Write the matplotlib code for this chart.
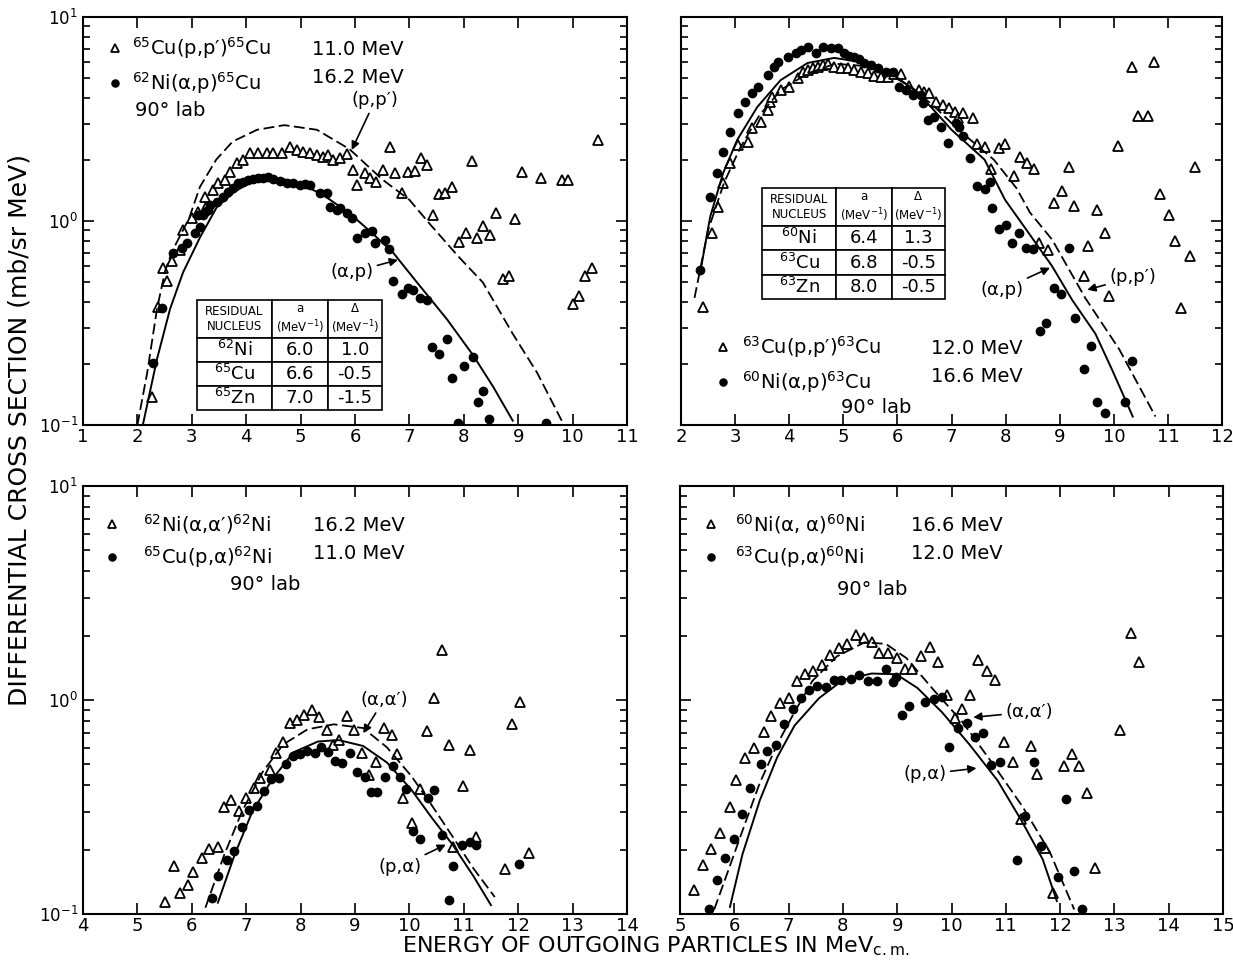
import matplotlib.pyplot as plt
from matplotlib.lines import Line2D
from matplotlib.ticker import NullFormatter, MultipleLocator

plt.rcParams['font.family'] = 'DejaVu Sans'
plt.rcParams['mathtext.default'] = 'regular'

# ---- top left: 65Cu(p,p') / 62Ni(a,p) ----
tl_tri_x = [2.27, 2.38, 2.47, 2.54, 2.64, 2.78, 2.84, 3.00, 3.11, 3.28, 3.24, 3.39, 3.48, 3.61, 3.70, 3.83, 3.94,
            4.07, 4.22, 4.38, 4.49, 4.66, 4.81, 4.93, 5.04, 5.17, 5.30, 5.41, 5.50, 5.60, 5.72, 5.85, 5.96, 6.04,
            6.18, 6.28, 6.39, 6.51, 6.64, 6.74, 6.86, 6.97, 7.10, 7.21, 7.32, 7.43, 7.54, 7.65, 7.78, 7.91, 8.04,
            8.15, 8.24, 8.35, 8.48, 8.59, 8.72, 8.83, 8.94, 9.07, 9.42, 9.81, 9.92, 10.01, 10.12, 10.23, 10.36, 10.47]
tl_tri_y = [0.137, 0.38, 0.59, 0.51, 0.64, 0.72, 0.90, 1.03, 1.11, 1.20, 1.31, 1.42, 1.54, 1.59, 1.74, 1.92, 1.99,
            2.15, 2.15, 2.15, 2.15, 2.15, 2.31, 2.23, 2.19, 2.15, 2.11, 2.06, 2.11, 1.99, 2.04, 2.13, 1.78, 1.50,
            1.72, 1.62, 1.55, 1.78, 2.31, 1.72, 1.37, 1.74, 1.76, 2.04, 1.88, 1.07, 1.36, 1.37, 1.47, 0.79, 0.87,
            1.97, 0.83, 0.94, 0.85, 1.09, 0.52, 0.54, 1.02, 1.74, 1.62, 1.59, 1.59, 0.39, 0.43, 0.54, 0.59, 2.49]
tl_dot_x = [2.29, 2.45, 2.65, 2.82, 2.91, 3.06, 3.15, 3.11, 3.21, 3.24, 3.30, 3.33, 3.46, 3.57, 3.67, 3.76, 3.85,
            3.94, 4.03, 4.13, 4.22, 4.31, 4.40, 4.49, 4.62, 4.75, 4.86, 4.99, 5.08, 5.17, 5.36, 5.49, 5.54, 5.67,
            5.72, 5.85, 5.94, 6.04, 6.18, 6.31, 6.37, 6.55, 6.63, 6.70, 6.86, 6.97, 7.07, 7.19, 7.32, 7.42, 7.54,
            7.69, 7.78, 7.89, 8.00, 8.17, 8.26, 8.35, 8.46, 9.51]
tl_dot_y = [0.201, 0.375, 0.70, 0.74, 0.78, 0.87, 0.935, 1.07, 1.07, 1.11, 1.13, 1.20, 1.24, 1.31, 1.39, 1.45, 1.54,
            1.55, 1.59, 1.61, 1.62, 1.62, 1.64, 1.61, 1.57, 1.54, 1.54, 1.50, 1.52, 1.50, 1.37, 1.37, 1.17, 1.13,
            1.16, 1.09, 1.03, 0.83, 0.87, 0.89, 0.78, 0.81, 0.73, 0.51, 0.44, 0.47, 0.46, 0.42, 0.41, 0.241, 0.223,
            0.264, 0.170, 0.102, 0.195, 0.215, 0.130, 0.147, 0.107, 0.102]
tl_dash_x = [2.0, 2.18, 2.36, 2.51, 2.65, 2.95, 3.15, 3.45, 3.75, 4.2, 4.7, 5.3, 5.9, 6.5, 7.0, 7.4, 7.9, 8.35,
             8.9, 9.35, 9.8]
tl_dash_y = [0.1, 0.18, 0.37, 0.57, 0.72, 1.03, 1.47, 2.0, 2.45, 2.8, 2.95, 2.8, 2.25, 1.6, 1.27, 0.95, 0.67, 0.5,
             0.28, 0.18, 0.105]
tl_solid_x = [2.1, 2.36, 2.6, 2.84, 3.15, 3.46, 3.8, 4.1, 4.4, 4.7, 5.0, 5.4, 5.9, 6.3, 6.7, 7.14, 7.69, 8.17,
              8.54, 8.9]
tl_solid_y = [0.1, 0.21, 0.37, 0.56, 0.83, 1.17, 1.4, 1.55, 1.62, 1.6, 1.52, 1.35, 1.09, 0.88, 0.70, 0.50, 0.33,
              0.22, 0.154, 0.105]
tl_nuclei = ['$^{62}$Ni', '$^{65}$Cu', '$^{65}$Zn']
tl_a = ['6.0', '6.6', '7.0']
tl_delta = ['1.0', '-0.5', '-1.5']

# ---- top right: 63Cu(p,p') / 60Ni(a,p) ----
tr_tri_x = [2.41, 2.58, 2.69, 2.78, 2.91, 3.06, 3.23, 3.32, 3.47, 3.60, 3.65, 3.69, 3.84, 3.99, 4.16, 4.25, 4.34,
            4.44, 4.53, 4.62, 4.71, 4.83, 4.96, 5.09, 5.20, 5.33, 5.46, 5.57, 5.70, 5.83, 5.94, 6.07, 6.22, 6.39,
            6.50, 6.59, 6.72, 6.85, 6.96, 7.07, 7.12, 7.22, 7.39, 7.48, 7.61, 7.73, 7.87, 7.99, 8.15, 8.26, 8.39,
            8.52, 8.62, 8.78, 8.90, 9.05, 9.18, 9.27, 9.44, 9.53, 9.68, 9.84, 9.92, 10.07, 10.33, 10.44, 10.63,
            10.74, 10.85, 11.02, 11.13, 11.24, 11.41, 11.50]
tr_tri_y = [0.38, 0.87, 1.17, 1.54, 1.92, 2.36, 2.44, 2.86, 3.06, 3.50, 3.83, 4.05, 4.39, 4.54, 5.02, 5.37, 5.50,
            5.62, 5.69, 5.82, 5.89, 5.69, 5.62, 5.62, 5.50, 5.37, 5.31, 5.14, 5.08, 5.08, 5.25, 5.25, 4.59, 4.39,
            4.29, 4.24, 3.83, 3.70, 3.58, 3.42, 3.20, 3.38, 3.20, 2.38, 2.31, 1.80, 2.28, 2.38, 1.66, 2.06, 1.92,
            1.80, 0.78, 0.72, 1.22, 1.40, 1.84, 1.19, 0.54, 0.75, 1.13, 0.87, 0.43, 2.33, 5.69, 3.27, 3.27,
            6.01, 1.36, 1.07, 0.80, 0.375, 0.67, 1.84]
tr_dot_x = [2.35, 2.54, 2.67, 2.78, 2.91, 3.06, 3.19, 3.32, 3.43, 3.60, 3.71, 3.80, 3.97, 4.12, 4.21, 4.34, 4.49,
            4.62, 4.77, 4.90, 5.01, 5.10, 5.20, 5.29, 5.38, 5.51, 5.64, 5.79, 5.92, 6.03, 6.16, 6.29, 6.44, 6.47,
            6.57, 6.68, 6.81, 6.94, 7.09, 7.13, 7.22, 7.35, 7.48, 7.61, 7.71, 7.74, 7.87, 8.00, 8.12, 8.25, 8.38,
            8.51, 9.18, 8.90, 9.03, 9.29, 8.64, 8.75, 9.57, 9.44, 10.33, 9.68, 10.20, 9.83]
tr_dot_y = [0.575, 1.31, 1.72, 2.18, 2.73, 3.38, 3.83, 4.24, 4.54, 5.19, 5.69, 6.01, 6.37, 6.66, 6.88, 7.13, 6.66,
            7.13, 7.05, 7.05, 6.66, 6.44, 6.37, 6.22, 5.95, 5.82, 5.62, 5.37, 5.37, 4.54, 4.39, 4.15, 4.15, 3.79,
            3.13, 3.23, 2.89, 2.41, 3.02, 2.89, 2.61, 2.04, 1.49, 1.44, 1.55, 1.16, 0.91, 0.955, 0.78, 0.87, 0.74,
            0.73, 0.74, 0.47, 0.44, 0.335, 0.289, 0.316, 0.244, 0.188, 0.206, 0.130, 0.130, 0.115]
tr_dash_x = [2.25, 2.5, 2.8, 3.1, 3.45, 3.85, 4.35, 4.85, 5.4, 5.9, 6.3, 6.7, 7.13, 7.78, 8.2, 8.45, 8.86, 9.47,
             10.1, 10.77]
tr_dash_y = [0.42, 0.9, 1.55, 2.3, 3.3, 4.4, 5.3, 5.9, 5.75, 5.15, 4.45, 3.6, 2.8, 2.0, 1.45, 1.1, 0.81, 0.42,
             0.235, 0.11]
tr_solid_x = [2.35, 2.54, 2.78, 3.04, 3.41, 3.84, 4.34, 4.83, 5.38, 5.88, 6.26, 6.63, 7.0, 7.61, 7.99, 8.43, 8.86,
              9.23, 9.66, 9.97, 10.35]
tr_solid_y = [0.55, 1.05, 1.72, 2.5, 3.62, 4.9, 5.95, 6.3, 6.0, 5.3, 4.5, 3.6, 2.8, 2.0, 1.27, 0.87, 0.60, 0.41,
              0.28, 0.186, 0.11]
tr_nuclei = ['$^{60}$Ni', '$^{63}$Cu', '$^{63}$Zn']
tr_a = ['6.4', '6.8', '8.0']
tr_delta = ['1.3', '-0.5', '-0.5']

# ---- bottom left: 62Ni(a,a') / 65Cu(p,a) ----
bl_tri_x = [5.51, 5.67, 5.78, 5.93, 6.03, 6.18, 6.32, 6.48, 6.60, 6.73, 6.86, 7.00, 7.14, 7.26, 7.43, 7.54, 7.67,
            7.81, 7.94, 8.07, 8.21, 8.34, 8.48, 8.59, 8.70, 8.86, 8.98, 9.13, 9.26, 9.39, 9.53, 9.68, 9.77, 9.89,
            10.05, 10.20, 10.32, 10.45, 10.60, 10.72, 10.81, 10.99, 11.12, 11.23, 11.76, 11.88, 12.04, 12.19]
bl_tri_y = [0.114, 0.168, 0.125, 0.136, 0.157, 0.183, 0.202, 0.205, 0.316, 0.340, 0.304, 0.348, 0.389, 0.431,
            0.470, 0.566, 0.638, 0.785, 0.811, 0.852, 0.895, 0.830, 0.728, 0.615, 0.650, 0.846, 0.728, 0.566,
            0.447, 0.514, 0.742, 0.683, 0.560, 0.350, 0.266, 0.385, 0.715, 1.02, 1.72, 0.615, 0.206, 0.395,
            0.586, 0.228, 0.163, 0.776, 0.982, 0.192]
bl_dot_x = [6.38, 6.49, 6.65, 6.78, 6.93, 7.05, 7.19, 7.32, 7.45, 7.61, 7.73, 7.86, 7.99, 8.12, 8.26, 8.38, 8.50,
            8.64, 8.77, 8.91, 9.03, 9.18, 9.29, 9.41, 9.56, 9.69, 9.82, 9.94, 10.07, 10.20, 10.34, 10.45, 10.60,
            10.72, 10.81, 10.96, 11.12, 11.23, 12.02]
bl_dot_y = [0.119, 0.150, 0.179, 0.198, 0.255, 0.307, 0.319, 0.375, 0.426, 0.434, 0.504, 0.545, 0.560, 0.575,
            0.566, 0.604, 0.570, 0.520, 0.509, 0.566, 0.459, 0.439, 0.371, 0.371, 0.439, 0.491, 0.436, 0.385,
            0.245, 0.225, 0.350, 0.381, 0.234, 0.116, 0.167, 0.211, 0.217, 0.211, 0.171]
bl_dash_x = [6.25, 6.60, 6.92, 7.30, 7.68, 8.13, 8.61, 9.15, 9.59, 10.04, 10.42, 10.80, 11.18, 11.57]
bl_dash_y = [0.107, 0.19, 0.30, 0.46, 0.62, 0.73, 0.77, 0.74, 0.60, 0.44, 0.32, 0.229, 0.163, 0.12]
bl_solid_x = [6.48, 6.79, 7.11, 7.49, 7.87, 8.32, 8.70, 9.15, 9.59, 10.04, 10.42, 10.80, 11.18, 11.50]
bl_solid_y = [0.113, 0.19, 0.30, 0.43, 0.57, 0.64, 0.65, 0.61, 0.51, 0.38, 0.28, 0.21, 0.15, 0.11]

# ---- bottom right: 60Ni(a,a) / 63Cu(p,a) ----
br_tri_x = [5.25, 5.43, 5.58, 5.74, 5.92, 6.04, 6.19, 6.36, 6.54, 6.68, 6.84, 7.00, 7.15, 7.31, 7.45, 7.62, 7.77,
            7.92, 8.08, 8.24, 8.39, 8.53, 8.67, 8.83, 8.99, 9.14, 9.28, 9.43, 9.61, 9.75, 9.91, 10.06, 10.20, 10.34,
            10.49, 10.65, 10.81, 10.96, 11.14, 11.28, 11.46, 11.57, 12.07, 12.21, 12.34, 12.49, 11.86, 11.73,
            12.64, 13.11, 13.30, 13.45]
br_tri_y = [0.130, 0.170, 0.201, 0.238, 0.318, 0.425, 0.535, 0.594, 0.710, 0.838, 0.966, 1.02, 1.23, 1.32, 1.36,
            1.46, 1.63, 1.75, 1.82, 2.01, 1.94, 1.87, 1.65, 1.66, 1.57, 1.39, 1.39, 1.61, 1.77, 1.51, 1.05, 0.822,
            0.906, 1.06, 1.54, 1.36, 1.24, 0.640, 0.515, 0.277, 0.610, 0.449, 0.490, 0.557, 0.490, 0.366, 0.126,
            0.204, 0.164, 0.724, 2.06, 1.51]
br_dot_x = [5.54, 5.69, 5.83, 5.99, 6.15, 6.29, 6.50, 6.61, 6.77, 6.92, 7.08, 7.23, 7.38, 7.53, 7.68, 7.83, 7.97,
            8.14, 8.30, 8.47, 8.63, 8.79, 8.92, 8.98, 9.08, 9.22, 9.51, 9.67, 9.82, 9.95, 10.12, 10.28, 10.43,
            10.58, 10.72, 10.90, 11.20, 11.35, 11.51, 11.64, 11.97, 12.10, 12.26, 12.40]
br_dot_y = [0.105, 0.144, 0.183, 0.225, 0.294, 0.390, 0.502, 0.579, 0.617, 0.771, 0.912, 1.02, 1.11, 1.16, 1.15,
            1.24, 1.24, 1.26, 1.31, 1.23, 1.23, 1.40, 1.21, 1.28, 0.847, 0.937, 0.977, 1.01, 1.03, 0.605, 0.743,
            0.778, 0.672, 0.703, 0.499, 0.512, 0.179, 0.287, 0.515, 0.207, 0.149, 0.346, 0.159, 0.105]
br_dash_x = [5.63, 5.89, 6.15, 6.47, 6.79, 7.11, 7.44, 7.89, 8.40, 8.79, 9.17, 9.69, 10.20, 10.72, 11.30, 11.81,
             12.26]
br_dash_y = [0.105, 0.16, 0.245, 0.41, 0.62, 0.88, 1.23, 1.60, 1.86, 1.83, 1.57, 1.10, 0.79, 0.52, 0.32, 0.195,
             0.105]
br_solid_x = [5.92, 6.15, 6.47, 6.79, 7.11, 7.56, 8.0, 8.53, 8.98, 9.37, 9.82, 10.33, 10.85, 11.30, 11.68, 11.94]
br_solid_y = [0.108, 0.19, 0.34, 0.54, 0.76, 1.02, 1.24, 1.33, 1.32, 1.14, 0.88, 0.62, 0.42, 0.27, 0.18, 0.115]

header = ['RESIDUAL\nNUCLEUS', 'a\n(MeV$^{-1}$)', 'Δ\n(MeV$^{-1}$)']

fig = plt.figure(figsize=(12.33, 9.6), dpi=100)
ax_tl = fig.add_axes([0.0673, 0.5573, 0.4412, 0.4250])
ax_tr = fig.add_axes([0.5523, 0.5573, 0.4388, 0.4250])
ax_bl = fig.add_axes([0.0673, 0.0479, 0.4412, 0.4458])
ax_br = fig.add_axes([0.5515, 0.0479, 0.4404, 0.4458])

dash = (0, (6, 2.5))


def draw_panel(ax, tx, ty, dx, dy, cdx, cdy, csx, csy, xlim, left):
    tri, = ax.plot(tx, ty, linestyle='none', marker='^', ms=7, mfc='white', mec='black', mew=1.3)
    dot, = ax.plot(dx, dy, linestyle='none', marker='o', ms=6, color='black')
    ax.plot(cdx, cdy, color='black', lw=1.3, linestyle=dash)
    ax.plot(csx, csy, color='black', lw=1.4)
    ax.set_yscale('log')
    ax.set_ylim(0.1, 10)
    ax.set_xlim(*xlim)
    ax.xaxis.set_major_locator(MultipleLocator(1))
    ax.yaxis.set_minor_formatter(NullFormatter())
    ax.tick_params(which='both', direction='in', top=True, right=True, width=1.2, labelsize=13)
    ax.tick_params(axis='y', labelsize=12)
    ax.tick_params(which='major', length=8)
    ax.tick_params(which='minor', length=5)
    ax.tick_params(axis='x', pad=2)
    if not left:
        ax.tick_params(labelleft=False)
    for s in ax.spines.values():
        s.set_linewidth(1.5)
    return tri, dot


def add_key(ax, tri, dot, labels, energies, anchor, pad, colsp):
    blank = Line2D([], [], linestyle='none')
    ax.legend([tri, dot, blank, blank], labels + energies, ncol=2, loc='upper left', bbox_to_anchor=anchor,
              frameon=False, fontsize=14, handlelength=0.6, handletextpad=pad, columnspacing=colsp,
              borderaxespad=0, borderpad=0, labelspacing=0.45, markerscale=0.85)


def add_table(ax, nuclei, a_vals, d_vals, bbox):
    cells = [header] + [[n, a, d] for n, a, d in zip(nuclei, a_vals, d_vals)]
    tb = ax.table(cellText=cells, colWidths=[75, 56, 54], cellLoc='center', bbox=bbox)
    tb.auto_set_font_size(False)
    for (r, c), cell in tb.get_celld().items():
        cell.set_linewidth(1.2)
        cell.set_height(0.38 if r == 0 else 0.24)
        cell.get_text().set_fontsize(8.5 if r == 0 else 13)


arrow = dict(arrowstyle='-|>', color='black', lw=1.2, mutation_scale=12, shrinkA=1, shrinkB=0)

# top left
t, d = draw_panel(ax_tl, tl_tri_x, tl_tri_y, tl_dot_x, tl_dot_y, tl_dash_x, tl_dash_y, tl_solid_x, tl_solid_y,
                  (1, 11), True)
add_key(ax_tl, t, d, ["$^{65}$Cu(p,p′)$^{65}$Cu", "$^{62}$Ni(α,p)$^{65}$Cu"], ["11.0 MeV", "16.2 MeV"],
        (0.048, 0.955), 0.6, 0.9)
ax_tl.text(0.096, 0.772, "90° lab", transform=ax_tl.transAxes, fontsize=14, va='center')
add_table(ax_tl, tl_nuclei, tl_a, tl_delta, [0.2096, 0.037, 0.34, 0.269])
ax_tl.annotate("(p,p′)", xy=(5.94, 2.23), xytext=(6.37, 3.9), fontsize=13, ha='center', va='center',
               arrowprops=arrow)
ax_tl.annotate("(α,p)", xy=(6.79, 0.645), xytext=(5.94, 0.56), fontsize=13, ha='center', va='center',
               arrowprops=arrow)

# top right
t, d = draw_panel(ax_tr, tr_tri_x, tr_tri_y, tr_dot_x, tr_dot_y, tr_dash_x, tr_dash_y, tr_solid_x, tr_solid_y,
                  (2, 12), False)
add_key(ax_tr, t, d, ["$^{63}$Cu(p,p′)$^{63}$Cu", "$^{60}$Ni(α,p)$^{63}$Cu"], ["12.0 MeV", "16.6 MeV"],
        (0.066, 0.222), 0.7, 1.3)
ax_tr.text(0.36, 0.042, "90° lab", transform=ax_tr.transAxes, fontsize=14, va='center', ha='center')
add_table(ax_tr, tr_nuclei, tr_a, tr_delta, [0.150, 0.309, 0.338, 0.272])
ax_tr.annotate("(α,p)", xy=(8.82, 0.59), xytext=(7.93, 0.46), fontsize=13, ha='center', va='center',
               arrowprops=arrow)
ax_tr.annotate("(p,p′)", xy=(9.51, 0.46), xytext=(10.35, 0.53), fontsize=13, ha='center', va='center',
               arrowprops=arrow)

# bottom left
t, d = draw_panel(ax_bl, bl_tri_x, bl_tri_y, bl_dot_x, bl_dot_y, bl_dash_x, bl_dash_y, bl_solid_x, bl_solid_y,
                  (4, 14), True)
add_key(ax_bl, t, d, ["$^{62}$Ni(α,α′)$^{62}$Ni", "$^{65}$Cu(p,α)$^{62}$Ni"], ["16.2 MeV", "11.0 MeV"],
        (0.042, 0.94), 1.3, 0.2)
ax_bl.text(0.335, 0.771, "90° lab", transform=ax_bl.transAxes, fontsize=14, va='center', ha='center')
ax_bl.annotate("(α,α′)", xy=(9.15, 0.70), xytext=(9.53, 1.0), fontsize=13, ha='center', va='center',
               arrowprops=arrow)
ax_bl.annotate("(p,α)", xy=(10.67, 0.211), xytext=(9.82, 0.166), fontsize=13, ha='center', va='center',
               arrowprops=arrow)

# bottom right
t, d = draw_panel(ax_br, br_tri_x, br_tri_y, br_dot_x, br_dot_y, br_dash_x, br_dash_y, br_solid_x, br_solid_y,
                  (5, 15), False)
add_key(ax_br, t, d, ["$^{60}$Ni(α, α)$^{60}$Ni", "$^{63}$Cu(p,α)$^{60}$Ni"], ["16.6 MeV", "12.0 MeV"],
        (0.046, 0.94), 0.95, 0.8)
ax_br.text(0.354, 0.759, "90° lab", transform=ax_br.transAxes, fontsize=14, va='center', ha='center')
ax_br.annotate("(α,α′)", xy=(10.40, 0.83), xytext=(11.43, 0.88), fontsize=13, ha='center', va='center',
               arrowprops=arrow)
ax_br.annotate("(p,α)", xy=(10.46, 0.48), xytext=(9.51, 0.45), fontsize=13, ha='center', va='center',
               arrowprops=arrow)

fig.text(0.016, 0.552, "DIFFERENTIAL CROSS SECTION (mb/sr MeV)", rotation=90, fontsize=18,
         ha='center', va='center')
fig.text(0.532, 0.002, "ENERGY OF OUTGOING PARTICLES IN MeV$_{\\mathrm{c.m.}}$", fontsize=16,
         ha='center', va='bottom')

fig.savefig('out.png', dpi=100)
